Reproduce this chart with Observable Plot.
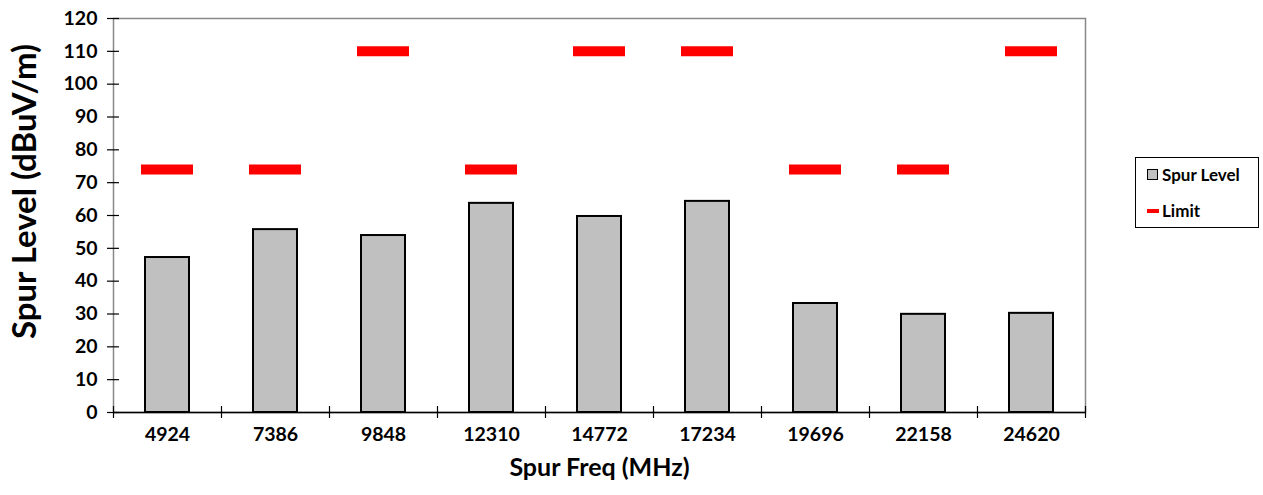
<!DOCTYPE html>
<html><head><meta charset="utf-8">
<script src="https://cdn.jsdelivr.net/npm/d3@7"></script>
<script src="https://cdn.jsdelivr.net/npm/@observablehq/plot@0.6"></script>
<style>
body{margin:0;background:#fff;font-family:Lato,"Open Sans",sans-serif;}
#wrap{position:relative;width:1263px;height:495px;}
#legend{position:absolute;left:1135px;top:157px;width:124px;height:71px;border:1px solid #000;box-sizing:border-box;background:#fff;font:bold 17px Lato,sans-serif;}
.item{position:absolute;left:11px;display:flex;align-items:center;}
.sw1{width:9px;height:9px;background:#c0c0c0;border:1.5px solid #000;margin-right:4px;}
.sw2{width:12px;height:4px;background:#ff0000;margin-right:3px;}
</style></head><body>
<div id="wrap"><div id="chart"></div>
<div id="legend"><div class="item" style="top:6px"><div class="sw1"></div>Spur Level</div>
<div class="item" style="top:42px"><div class="sw2"></div>Limit</div></div></div>
<script>
const freqs = ["4924","7386","9848","12310","14772","17234","19696","22158","24620"];
const spurLevel = [47.2, 55.7, 53.9, 63.7, 59.7, 64.3, 33.2, 29.9, 30.2];
const limit = [74, 74, 110, 74, 110, 110, 74, 74, 110];
const yTicks = [0,10,20,30,40,50,60,70,80,90,100,110,120];

const data = freqs.map((f,i)=>({freq:f, level:spurLevel[i], limit:limit[i]}));
const font = "Lato, sans-serif";

const chart = Plot.plot({
  width: 1263, height: 495,
  marginLeft: 113, marginRight: 178, marginTop: 18, marginBottom: 83,
  style: {fontFamily: font, background: "white", color: "black"},
  x: {domain: freqs, padding: 0, label: null},
  y: {domain: [0,120], label: null},
  marks: [
    Plot.frame({stroke: "#888", strokeWidth: 1.5}),
    Plot.barY(data, {x: "freq", y: "level", fill: "#c0c0c0", stroke: "black", strokeWidth: 2, insetLeft: 32, insetRight: 32}),
    Plot.tickY(data, {x: "freq", y: "limit", stroke: "#ff0000", strokeWidth: 10, insetLeft: 28, insetRight: 28}),
    Plot.ruleY([0], {stroke: "black", strokeWidth: 1.5}),
    Plot.axisY({ticks: yTicks, tickSize: 12, dx: 6, tickFormat: () => "", label: null, stroke: "black", strokeWidth: 1.2, strokeOpacity: 1}),
    Plot.axisY({ticks: yTicks, tickSize: 0, tickPadding: 16, label: null, line: true, stroke: "black", strokeWidth: 1.5, fontSize: 19.5, fontWeight: "bold", tickFormat: d => d}),
    Plot.ruleX(data, {x: "freq", y1: 0, y2: 0, dx: -54, insetTop: -6, insetBottom: -6, stroke: "black", strokeWidth: 1.2}),
    Plot.ruleX(data.slice(-1), {x: "freq", y1: 0, y2: 0, dx: 54, insetTop: -6, insetBottom: -6, stroke: "black", strokeWidth: 1.2}),
    Plot.axisX({tickSize: 0, tickPadding: 15, label: null, fontSize: 19.5, fontWeight: "bold"}),
    Plot.text(["Spur Freq (MHz)"], {frameAnchor: "bottom", dy: 63, fontSize: 25, fontWeight: "bold", fill: "black"}),
    Plot.text(["Spur Level (dBuV/m)"], {frameAnchor: "left", textAnchor: "middle", rotate: -90, dx: -88, dy: -24, fontSize: 33, fontWeight: "bold", fill: "black"})
  ]
});
document.getElementById("chart").appendChild(chart);
</script></body></html>
